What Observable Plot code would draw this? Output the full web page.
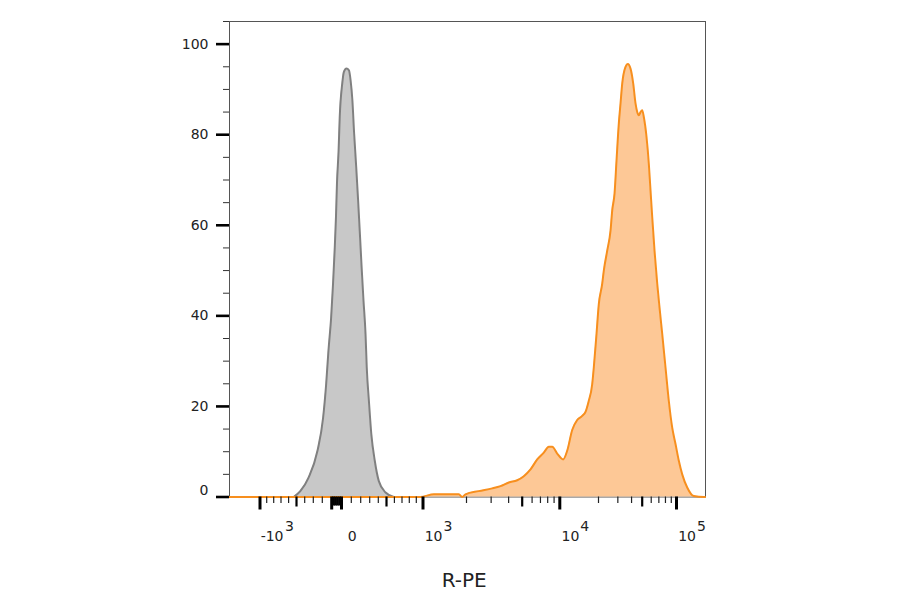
<!DOCTYPE html>
<html>
<head>
<meta charset="utf-8">
<script src="https://cdn.jsdelivr.net/npm/d3@7"></script>
<script src="https://cdn.jsdelivr.net/npm/@observablehq/plot@0.6"></script>
<style>
  html, body { margin: 0; padding: 0; background: #fff; }
  #chart { width: 900px; height: 594px; }
</style>
</head>
<body>
<div id="chart"></div>
<script>
// ---- data (R-PE intensity, % of max) ----
const isotypeIntensity = [-534,-451,-352,-250,-190,-155,-131,-105,-85,-68,-54,-44,-28,-17,7,23,48,74,92,110,127,148,169,190,209,228,250,264,290,317,356,406,488,592];
const isotypeCount     = [0,1.3,4.3,10.2,17.5,24.9,32.3,39.7,47.1,54.4,61.8,69.2,76.5,83.9,91.3,93.9,94.6,94.2,92,87.6,80.2,72.9,65.5,58.1,50.7,43.4,36,28.6,21.2,13.9,8,3.5,1,0];

const stainedIntensity = [-1620,958,1191,1771,1868,1969,2449,3053,3500,4012,4605,5150,5828,6594,7447,8166,8693,9533,10628,11415,12488,13658,14940,15848,16718,17865,18383,19298,20130,21623,22358,24015,25733,26670,27990,29183,30630,31740,32888,35250,36990,39143,41423,43470,45045,46583,48278,50000,51660,54563,57158,59153,61223,64133,67733,71385,74933,80100,85628,91718,98048,104813,112260,124193,141900,173640,178000];
const stainedCount     = [0,0,0.6,0.6,0,0.6,1.3,1.9,2.4,3.2,3.7,4.6,6.1,8.3,9.8,11.1,11.1,9.6,8.3,10.2,14.8,17,17.9,18.8,21,24.9,28.6,36,42.6,47.1,50,54.4,58.8,63.3,67,74.3,82.5,86.9,91.3,95,95.6,94.6,91.3,86.9,85,84.3,85,85.4,83.9,79.5,73.6,67.7,61.8,54.4,47.1,41.2,36,28.6,21.2,15.3,11.7,8,5,2.1,0.2,0,0];

// ---- axis ticks ----
const yMajorTicks = [0,20,40,60,80,100];
const yMinorTicks = [5,10,15,25,30,35,45,50,55,65,70,75,85,90,95,105];
const yTickLabels = ["0","20","40","60","80","100"];

const xMajorTicks = [-1000,-100,0,1000,10000,100000];
const xMidTicks   = [-500,500,5000,50000];
const xZeroCluster = [-80,-60,-40,-20];
const xMinorTicks = [-900,-800,-700,-600,-400,-300,-200,100,200,300,400,600,700,800,900,
                     2000,3000,4000,6000,7000,8000,9000,
                     20000,30000,40000,60000,70000,80000,90000];
const xPosLabelValues = [1000,10000,100000];
const xPosLabelExps   = ["3","4","5"];
const xNegLabelValues = [-1000];
const xNegLabelExps   = ["3"];

// ---- biexponential axis calibration (value -> screen position) ----
const calibrationValues = [-1000,-900,-800,-700,-600,-500,-400,-300,-200,-100,0,100,200,300,400,500,600,700,800,900,1000,2000,5000,10000,20000,50000,100000];
const calibrationPixels = [259.5,266.2,273.2,280.5,288.1,296,304.2,312.8,321.8,331.2,341,350.8,360.2,369.2,377.8,386,393.9,401.5,408.8,415.8,422.5,466,521.7,559.3,598,641.7,676];
const T = v => Math.asinh(v / 150);

const isotype = isotypeIntensity.map((v, i) => ({v, c: isotypeCount[i]}));
const stained = stainedIntensity.map((v, i) => ({v, c: stainedCount[i]}));

const font = "DejaVu Sans, Verdana, sans-serif";
const txt = "#222";

const chart = Plot.plot({
  width: 900,
  height: 594,
  marginTop: 21,
  marginRight: 195,
  marginBottom: 97.5,
  marginLeft: 229,
  style: {fontFamily: font, fontSize: "14px", color: txt, background: "#fff"},
  x: {type: "linear", domain: calibrationValues.map(T), range: calibrationPixels, axis: null},
  y: {domain: [0, 105], axis: null},
  marks: [
    Plot.frame({stroke: "#555", strokeWidth: 1}),
    Plot.areaY(isotype, {x: d => T(d.v), y: "c", fill: "#c8c8c8", curve: "monotone-x"}),
    Plot.lineY(isotype, {x: d => T(d.v), y: "c", stroke: "#808080", strokeWidth: 2, curve: "monotone-x"}),
    Plot.areaY(stained, {x: d => T(d.v), y: "c", fill: "#fdc896", curve: "monotone-x"}),
    Plot.lineY(stained, {x: d => T(d.v), y: "c", stroke: "#f78f1e", strokeWidth: 2, curve: "monotone-x"}),

    // y ticks
    Plot.axisY(yMajorTicks, {anchor: "left", tickSize: 13, strokeWidth: 2.6, stroke: "#000", fill: "none", label: null}),
    Plot.axisY(yMinorTicks, {anchor: "left", tickSize: 6, strokeWidth: 1, stroke: "#333", fill: "none", label: null}),
    Plot.text(yMajorTicks.slice(1), {y: d => d, text: (d, i) => yTickLabels[i + 1], frameAnchor: "left", dx: -21, textAnchor: "end", lineAnchor: "middle", fontSize: 14, fill: txt}),
    Plot.text([0], {y: d => d, text: () => yTickLabels[0], frameAnchor: "left", dx: -21, dy: -6, textAnchor: "end", lineAnchor: "middle", fontSize: 14, fill: txt}),

    // x ticks
    Plot.axisX(xMajorTicks.map(T), {anchor: "bottom", tickSize: 13, strokeWidth: 3, stroke: "#000", fill: "none", label: null}),
    Plot.axisX(xMidTicks.map(T), {anchor: "bottom", tickSize: 10, strokeWidth: 2.2, stroke: "#000", fill: "none", label: null}),
    Plot.axisX(xZeroCluster.map(T), {anchor: "bottom", tickSize: 9, strokeWidth: 2.6, stroke: "#000", fill: "none", label: null}),
    Plot.axisX(xMinorTicks.map(T), {anchor: "bottom", tickSize: 6.5, strokeWidth: 1.2, stroke: "#222", fill: "none", label: null}),

    // x tick labels (power-of-ten notation)
    Plot.text(xPosLabelValues, {x: d => T(d), text: () => "10", frameAnchor: "bottom", textAnchor: "end", lineAnchor: "bottom", dx: 19.5, dy: 43.5, fontSize: 14, fill: txt}),
    Plot.text(xPosLabelValues, {x: d => T(d), text: (d, i) => xPosLabelExps[i], frameAnchor: "bottom", textAnchor: "start", lineAnchor: "bottom", dx: 20.5, dy: 33.5, fontSize: 14, fill: txt}),
    Plot.text(xNegLabelValues, {x: d => T(d), text: () => "-10", frameAnchor: "bottom", textAnchor: "end", lineAnchor: "bottom", dx: 23.5, dy: 43.5, fontSize: 14, fill: txt}),
    Plot.text(xNegLabelValues, {x: d => T(d), text: (d, i) => xNegLabelExps[i], frameAnchor: "bottom", textAnchor: "start", lineAnchor: "bottom", dx: 25, dy: 33.5, fontSize: 14, fill: txt}),
    Plot.text([0], {x: d => T(d), text: () => "0", frameAnchor: "bottom", textAnchor: "middle", lineAnchor: "bottom", dx: 10.7, dy: 43.5, fontSize: 14, fill: txt}),

    // axis title
    Plot.text(["R-PE"], {frameAnchor: "bottom", textAnchor: "middle", lineAnchor: "bottom", dx: -3.3, dy: 89.5, fontSize: 20, fill: txt})
  ]
});
document.getElementById("chart").appendChild(chart);
</script>
</body>
</html>
